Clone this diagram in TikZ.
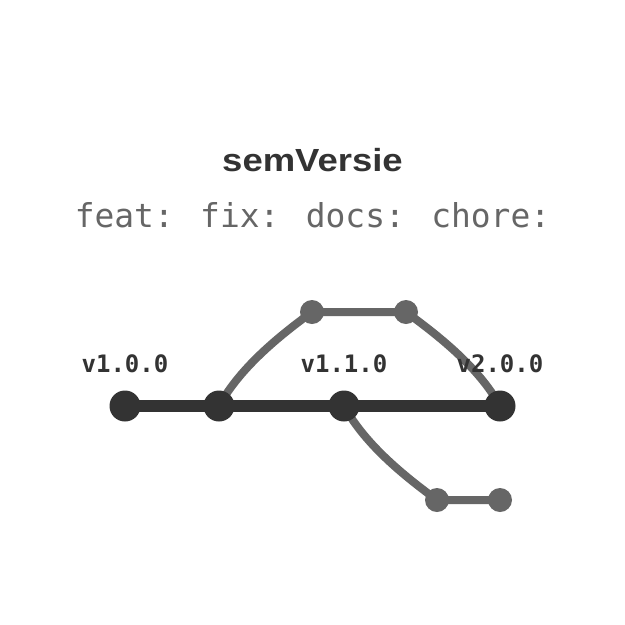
\documentclass[tikz,border=0pt]{standalone}
\usepackage{fontspec}
\usepackage{xcolor}
\usepackage{graphicx}
\usetikzlibrary{positioning,backgrounds}
\newfontfamily\headfont{Liberation Sans}
\newfontfamily\codefont{DejaVu Sans Mono}
\definecolor{trunk}{HTML}{333333}
\definecolor{twig}{HTML}{666666}
\tikzstyle{mainline} = [
    line width=12pt,
    draw=trunk
]

\begin{document}
\begin{tikzpicture}[
    x=1pt, y=-1pt,
    on grid,
    release/.style={
        circle,
        fill=trunk,
        minimum size=31pt,
        inner sep=0pt
    },
    commit/.style={
        circle,
        fill=twig,
        minimum size=24pt,
        inner sep=0pt
    },
    branchline/.style={
        line width=8pt,
        draw=twig
    },
    tag/.style={
        font=\codefont\bfseries\fontsize{24}{28}\selectfont,
        text=trunk,
        anchor=base,
        inner sep=0pt
    }
]
\useasboundingbox (0,0) rectangle (625,625);

% Title
\node[font=\headfont\bfseries\fontsize{32}{38}\selectfont, text=trunk, anchor=base, inner sep=0pt] (head) at (312.5,171) {\scalebox{1.14}[1]{semVersie}};
\node[font=\codefont\fontsize{32.9}{40}\selectfont, text=twig, anchor=base, inner sep=0pt] (types) at (312.5,227) {feat: fix: docs: chore:};

% Nodes
\node[release] (v100) at (125,406) {};
\node[release, right=94pt of v100] (fork) {};
\node[release, right=125pt of fork] (v110) {};
\node[release, right=156pt of v110] (v200) {};
\node[commit, above right=94pt and 93pt of fork] (feat1) {};
\node[commit, right=94pt of feat1] (feat2) {};
\node[commit, below right=94pt and 93pt of v110] (fix1) {};
\node[commit, right=63pt of fix1] (fix2) {};

% Labels
\node[tag] (l100) at ([yshift=34pt]v100.center) {v1.0.0};
\node[tag] (l110) at ([yshift=34pt]v110.center) {v1.1.0};
\node[tag] (l200) at ([yshift=34pt]v200.center) {v2.0.0};

% Lines
\begin{scope}[on background layer]
\fill[white] (0,0) rectangle (625,625);
\draw[branchline] (fork.center) .. controls +(22,-40) and +(-30,22) .. (feat1.center)
    -- (feat2.center) .. controls +(30,22) and +(-22,-40) .. (v200.center);
\draw[branchline] (v110.center) .. controls +(22,40) and +(-30,-22) .. (fix1.center)
    -- (fix2.center);
\foreach \from/\to in {v100/fork, fork/v110, v110/v200} {
    \draw[mainline] (\from.center) -- (\to.center);
}
\end{scope}
\end{tikzpicture}
\end{document}
